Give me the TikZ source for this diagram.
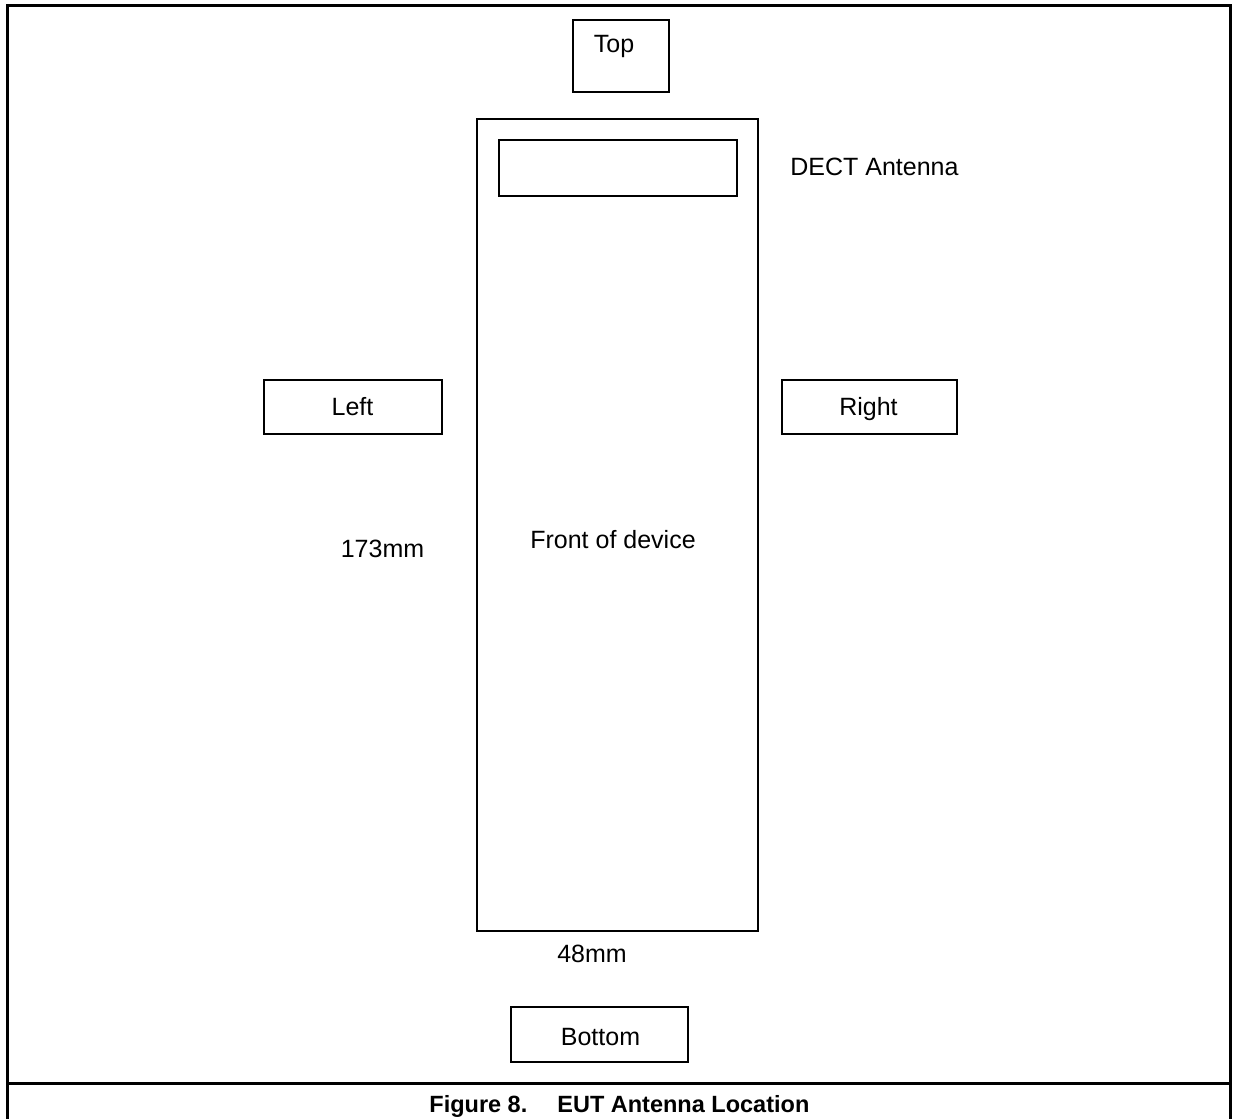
\documentclass[tikz,border=0pt]{standalone}
\usepackage{fontspec}
\setmainfont{Liberation Sans}
\begin{document}
\begin{tikzpicture}[x=0.5pt,y=-0.5pt,
  box/.style={draw=black, line width=0.8pt, inner sep=0pt, fill=none},
  lbl/.style={anchor=base, inner sep=0pt, font=\fontsize{12.5}{15}\selectfont},
  captxt/.style={anchor=base west, inner sep=0pt, font=\fontsize{11.75}{14}\selectfont\bfseries},
  frameline/.style={line width=1.5pt, black}]
\useasboundingbox (0,0) rectangle (1237,1119);
% frame
\coordinate (fbl) at (7,1125);
\coordinate (ftl) at (7,5.5);
\coordinate (ftr) at (1230.5,5.5);
\coordinate (fbr) at (1230.5,1125);
\coordinate (sl) at (7,1083.5);
\coordinate (sr) at (1230.5,1083.5);
\draw[frameline] (fbl) -- (ftl) -- (ftr) -- (fbr);
\draw[frameline] (sl) -- (sr);
% boxes
\node[box, minimum width=48pt, minimum height=36pt] (top) at (621,56) {};
\node[box, minimum width=140.5pt, minimum height=406pt] (device) at (617.5,525) {};
\node[box, minimum width=119pt, minimum height=28pt] (antenna) at (618,168) {};
\node[box, minimum width=89pt, minimum height=27pt] (left) at (353,407) {};
\node[box, minimum width=87.5pt, minimum height=27pt] (right) at (869.5,407) {};
\node[box, minimum width=88.5pt, minimum height=27.5pt] (bottom) at (599.5,1034.5) {};
% labels
\node[lbl] (toplbl) at (614,53) {Top};
\node[lbl] (dect) at (874.5,175) {DECT Antenna};
\node[lbl] (leftlbl) at (352.5,415) {Left};
\node[lbl] (rightlbl) at (868.5,415) {Right};
\node[lbl] (len) at (382.5,557) {173mm};
\node[lbl] (front) at (613,548) {Front of device};
\node[lbl] (wid) at (592,962) {48mm};
\node[lbl] (bottomlbl) at (600.5,1045) {Bottom};
% caption
\node[captxt] (fig) at (429,1112) {Figure 8.};
\node[captxt] (title) at (557,1112) {EUT Antenna Location};
\end{tikzpicture}
\end{document}
